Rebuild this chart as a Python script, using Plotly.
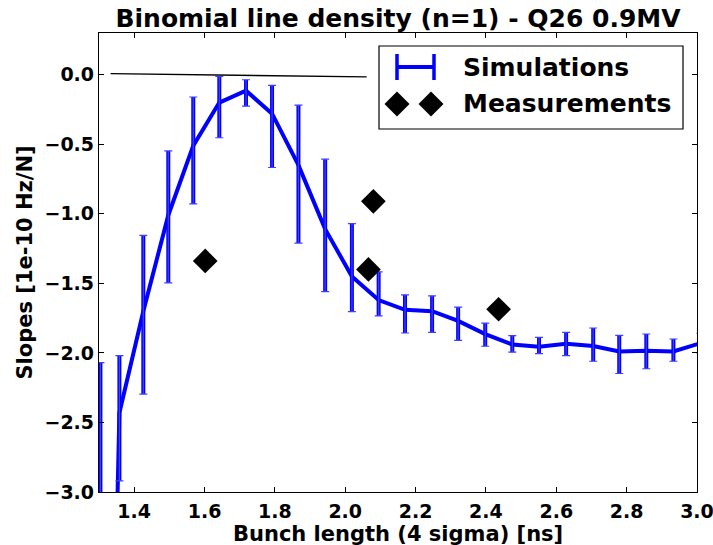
import plotly.graph_objects as go

# Simulated slopes vs bunch length (line vertex, upper and lower end of each error bar)
bunch_length = [1.304, 1.358, 1.426, 1.497, 1.568, 1.642, 1.718, 1.792, 1.867, 1.943,
                2.019, 2.095, 2.170, 2.247, 2.321, 2.398, 2.475, 2.551, 2.628, 2.705,
                2.779, 2.856, 2.933, 3.010]
slope = [-8.5, -2.43, -1.70, -1.01, -0.51, -0.20, -0.115, -0.28, -0.65, -1.11,
         -1.45, -1.62, -1.69, -1.70, -1.77, -1.865, -1.94, -1.955, -1.935, -1.95,
         -1.99, -1.985, -1.99, -1.93]
slope_upper = [-2.07, -2.02, -1.155, -0.548, -0.16, -0.012, -0.036, -0.076, -0.219, -0.607,
               -1.071, -1.417, -1.583, -1.59, -1.671, -1.786, -1.876, -1.888, -1.852, -1.821,
               -1.874, -1.864, -1.90, -1.86]
slope_lower = [-14.9, -2.92, -2.296, -1.496, -0.929, -0.453, -0.226, -0.667, -1.21, -1.56,
               -1.703, -1.734, -1.857, -1.852, -1.91, -1.952, -1.995, -2.005, -2.019, -2.06,
               -2.148, -2.114, -2.06, -2.0]

# Measured slopes
meas_length = [1.602, 2.066, 2.080, 2.436]
meas_slope = [-1.339, -1.40, -0.91, -1.686]

# Thin reference line near zero
ref_x = [1.333, 2.061]
ref_y = [0.008, -0.016]

x_ticks = [1.4, 1.6, 1.8, 2.0, 2.2, 2.4, 2.6, 2.8, 3.0]
y_ticks = [0.0, -0.5, -1.0, -1.5, -2.0, -2.5, -3.0]

err_plus = [u - v for u, v in zip(slope_upper, slope)]
err_minus = [v - l for v, l in zip(slope, slope_lower)]

BLUE = "#0000ff"
FONT = "DejaVu Sans"

W, H = 713, 545
ML, MR, MT, MB = 99, 16, 33, 53
PW, PH = W - ML - MR, H - MT - MB


def px(xp):
    return (xp - ML) / PW


def py(yp):
    return (H - MB - yp) / PH


fig = go.Figure()

# error bar stems
fig.add_trace(go.Scatter(
    x=bunch_length, y=slope, mode="lines",
    line=dict(color=BLUE, width=4),
    error_y=dict(type="data", symmetric=False, array=err_plus, arrayminus=err_minus,
                 color=BLUE, thickness=4, width=0),
    showlegend=False,
))
# thin caps at the ends of each error bar
fig.add_trace(go.Scatter(
    x=bunch_length, y=slope, mode="markers",
    marker=dict(size=1, color="rgba(0,0,0,0)"),
    error_y=dict(type="data", symmetric=False, array=err_plus, arrayminus=err_minus,
                 color="#4040ff", thickness=1.2, width=4),
    showlegend=False,
))
fig.add_trace(go.Scatter(
    x=ref_x, y=ref_y, mode="lines",
    line=dict(color="black", width=1.3),
    showlegend=False,
))
fig.add_trace(go.Scatter(
    x=meas_length, y=meas_slope, mode="markers",
    marker=dict(symbol="diamond", size=19, color="black", line=dict(width=0)),
    showlegend=False,
))

# legend box drawn by hand
shapes = [
    dict(type="rect", xref="paper", yref="paper",
         x0=px(379), x1=px(683), y0=py(129), y1=py(46),
         line=dict(color="black", width=1.2), fillcolor="white", layer="above"),
    dict(type="line", xref="paper", yref="paper",
         x0=px(396), x1=px(435), y0=py(67), y1=py(67),
         line=dict(color=BLUE, width=4), layer="above"),
    dict(type="line", xref="paper", yref="paper",
         x0=px(397), x1=px(397), y0=py(54), y1=py(80),
         line=dict(color=BLUE, width=3.5), layer="above"),
    dict(type="line", xref="paper", yref="paper",
         x0=px(434), x1=px(434), y0=py(54), y1=py(80),
         line=dict(color=BLUE, width=3.5), layer="above"),
]
for cx in (397, 431):
    cy, r = 104, 12.5
    path = "M {} {} L {} {} L {} {} L {} {} Z".format(
        px(cx - r), py(cy), px(cx), py(cy - r), px(cx + r), py(cy), px(cx), py(cy + r))
    shapes.append(dict(type="path", xref="paper", yref="paper", path=path,
                       fillcolor="black", line=dict(color="black", width=0), layer="above"))

bold = dict(family=FONT, color="black", weight="bold")
annotations = [
    dict(text="Simulations", xref="paper", yref="paper", x=px(461), y=py(67),
         xanchor="left", yanchor="middle", showarrow=False, font=dict(size=25, **bold)),
    dict(text="Measurements", xref="paper", yref="paper", x=px(461), y=py(104),
         xanchor="left", yanchor="middle", showarrow=False, font=dict(size=25, **bold)),
    # axis titles
    dict(text="Bunch length (4 sigma) [ns]", xref="paper", yref="paper",
         x=px((ML + W - MR) / 2), y=py(534), xanchor="center", yanchor="middle",
         showarrow=False, font=dict(size=21, **bold)),
    dict(text="Slopes [1e-10 Hz/N]", xref="paper", yref="paper",
         x=px(24), y=py((MT + H - MB) / 2), xanchor="center", yanchor="middle",
         textangle=-90, showarrow=False, font=dict(size=21, **bold)),
]

axis_common = dict(
    showline=True, linecolor="black", linewidth=1.3, mirror="ticks",
    ticks="inside", ticklen=5, tickwidth=1, tickcolor="black",
    showgrid=False, zeroline=False, automargin=False,
    ticklabeloverflow="allow",
    tickfont=dict(size=19, **bold),
)

fig.update_layout(
    width=W, height=H,
    margin=dict(l=ML, r=MR, t=MT, b=MB),
    paper_bgcolor="white", plot_bgcolor="white",
    title=dict(text="Binomial line density (n=1) - Q26 0.9MV",
               x=px((ML + W - MR) / 2), xref="paper", xanchor="center",
               y=1 - 18 / H, yref="container", yanchor="middle",
               font=dict(size=25, **bold)),
    xaxis=dict(range=[1.3, 3.0001], tickvals=x_ticks, tickformat=".1f",
               ticklabelstandoff=2, **axis_common),
    yaxis=dict(range=[-3.0, 0.3], tickvals=y_ticks, tickformat=".1f", **axis_common),
    shapes=shapes,
    annotations=annotations,
    showlegend=False,
)

fig.write_html("out.html")
